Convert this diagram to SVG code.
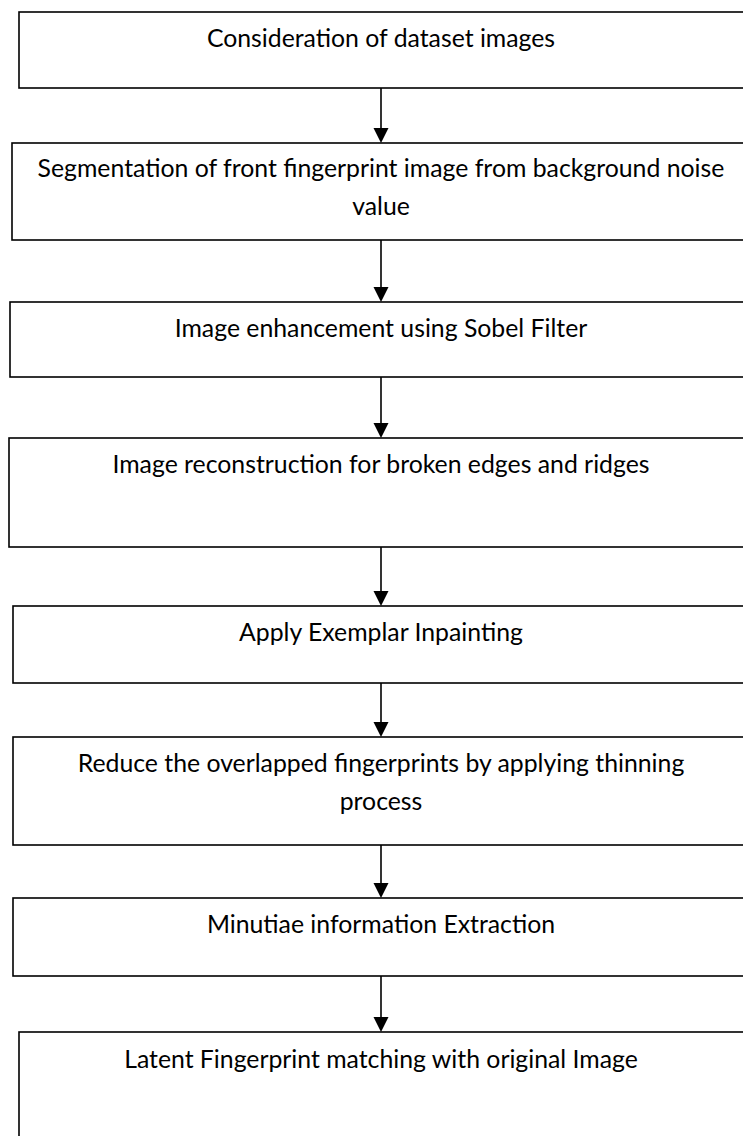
<svg xmlns="http://www.w3.org/2000/svg" width="743" height="1136" viewBox="0 0 743 1136">
<defs>
<style>
.box{fill:#fff;stroke:#000;stroke-width:1.6}
.lbl{font-family:Lato,"Liberation Sans",sans-serif;font-size:24.8px;fill:#000;text-anchor:middle}
.con{stroke:#000;stroke-width:1.6;fill:none}
.head{fill:#000}
</style>
</defs>
<rect width="743" height="1136" fill="#fff"/>
<g id="n1"><rect class="box" x="19" y="12" width="740" height="76"/><text class="lbl" x="381" y="47">Consideration of dataset images</text></g>
<g id="n2"><rect class="box" x="12" y="143" width="740" height="97"/><text class="lbl" x="381" y="177">Segmentation of front fingerprint image from background noise</text><text class="lbl" x="381" y="215">value</text></g>
<g id="n3"><rect class="box" x="10" y="302" width="740" height="75"/><text class="lbl" x="381" y="337">Image enhancement using Sobel Filter</text></g>
<g id="n4"><rect class="box" x="9" y="438" width="740" height="109"/><text class="lbl" x="381" y="473">Image reconstruction for broken edges and ridges</text></g>
<g id="n5"><rect class="box" x="13" y="606" width="740" height="77"/><text class="lbl" x="381" y="641">Apply Exemplar Inpainting</text></g>
<g id="n6"><rect class="box" x="13" y="737" width="740" height="108"/><text class="lbl" x="381" y="772">Reduce the overlapped fingerprints by applying thinning</text><text class="lbl" x="381" y="810">process</text></g>
<g id="n7"><rect class="box" x="13" y="898" width="740" height="78"/><text class="lbl" x="381" y="933">Minutiae information Extraction</text></g>
<g id="n8"><rect class="box" x="19" y="1032" width="740" height="120"/><text class="lbl" x="381" y="1068">Latent Fingerprint matching with original Image</text></g>
<g id="connectors">
<line class="con" x1="381" y1="88" x2="381" y2="130"/><path class="head" d="M373.5,128 L388.5,128 L381,143 Z"/>
<line class="con" x1="381" y1="240" x2="381" y2="289"/><path class="head" d="M373.5,287 L388.5,287 L381,302 Z"/>
<line class="con" x1="381" y1="377" x2="381" y2="425"/><path class="head" d="M373.5,423 L388.5,423 L381,438 Z"/>
<line class="con" x1="381" y1="547" x2="381" y2="593"/><path class="head" d="M373.5,591 L388.5,591 L381,606 Z"/>
<line class="con" x1="381" y1="683" x2="381" y2="724"/><path class="head" d="M373.5,722 L388.5,722 L381,737 Z"/>
<line class="con" x1="381" y1="845" x2="381" y2="885"/><path class="head" d="M373.5,883 L388.5,883 L381,898 Z"/>
<line class="con" x1="381" y1="976" x2="381" y2="1019"/><path class="head" d="M373.5,1017 L388.5,1017 L381,1032 Z"/>
</g>
</svg>
